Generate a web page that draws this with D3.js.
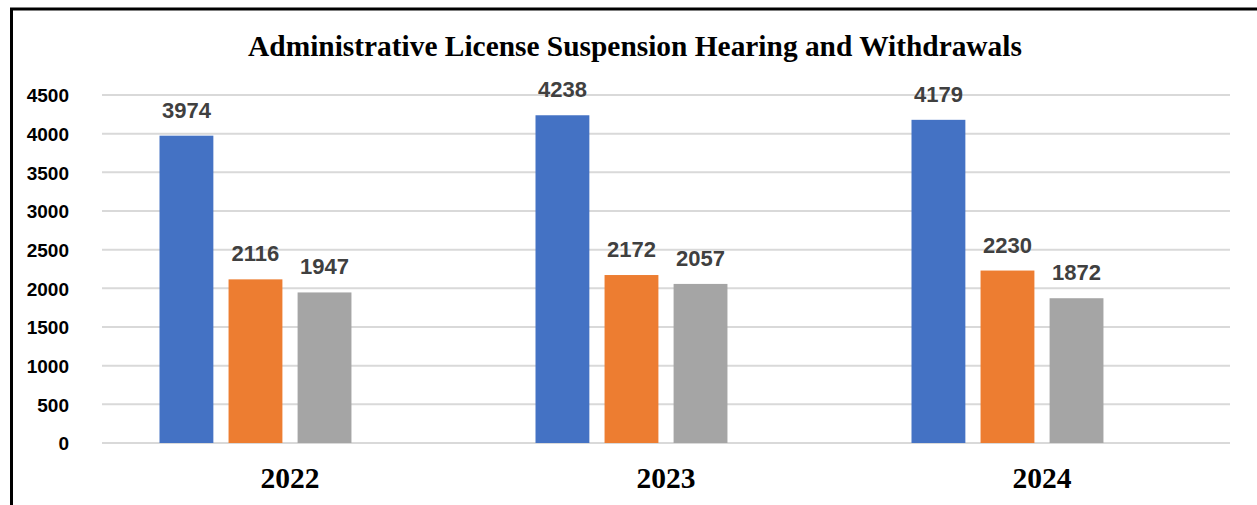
<!DOCTYPE html>
<html>
<head>
<meta charset="utf-8">
<script src="https://cdn.jsdelivr.net/npm/d3@7"></script>
<style>
  body { margin: 0; background: #fff; }
  svg { display: block; }
</style>
</head>
<body>
<div class="chart"></div>
<script>
// chart data
var years = ["2022", "2023", "2024"];
var seriesA = [3974, 4238, 4179];
var seriesB = [2116, 2172, 2230];
var seriesC = [1947, 2057, 1872];
var yTicks = [0, 500, 1000, 1500, 2000, 2500, 3000, 3500, 4000, 4500];
var titleText = "Administrative License Suspension Hearing and Withdrawals";

var svgWidth = 1257;
var svgHeight = 505;

var margin = { top: 95, bottom: 62, left: 102, right: 27 };
var width = svgWidth - margin.left - margin.right;
var height = svgHeight - margin.top - margin.bottom;

var svg = d3.select(".chart")
  .append("svg")
  .attr("width", svgWidth)
  .attr("height", svgHeight);

// frame lines (left and top)
svg.append("line")
  .attr("x1", 11.5).attr("x2", 11.5)
  .attr("y1", 8).attr("y2", svgHeight)
  .attr("stroke", "#000").attr("stroke-width", 3);
svg.append("line")
  .attr("x1", 10).attr("x2", svgWidth)
  .attr("y1", 9).attr("y2", 9)
  .attr("stroke", "#000").attr("stroke-width", 3);

// title
svg.append("text")
  .attr("x", 635)
  .attr("y", 56)
  .attr("text-anchor", "middle")
  .style("font-family", "'Liberation Serif', 'Times New Roman', serif")
  .style("font-weight", "bold")
  .style("font-size", "29.4px")
  .text(titleText);

var chartGroup = svg.append("g")
  .attr("transform", `translate(${margin.left}, ${margin.top})`);

// scales
var yScale = d3.scaleLinear()
  .domain([0, 4500])
  .range([height, 0]);

var x0 = d3.scaleBand()
  .domain(years)
  .range([0, width])
  .padding(0);

// the group leaves room for a fourth (empty) series, like the source chart
var slots = ["a", "b", "c", "d"];
var groupW = 261;
var groupOff = (x0.bandwidth() - groupW) / 2;
var x1 = d3.scaleBand()
  .domain(slots)
  .range([groupOff, groupOff + groupW])
  .paddingInner(0.22)
  .paddingOuter(0);

// gridlines
chartGroup.append("g")
  .selectAll("line")
  .data(yTicks)
  .enter()
  .append("line")
  .attr("x1", 0)
  .attr("x2", width)
  .attr("y1", d => yScale(d))
  .attr("y2", d => yScale(d))
  .attr("stroke", "#d9d9d9")
  .attr("stroke-width", 2);

// y axis labels
var yAxis = d3.axisLeft(yScale)
  .tickValues(yTicks)
  .tickFormat(d3.format("d"))
  .tickSize(0)
  .tickPadding(33);
var yAxisG = chartGroup.append("g").call(yAxis);
yAxisG.select(".domain").remove();
yAxisG.selectAll("text")
  .attr("dy", "0.36em")
  .style("font-family", "'Liberation Sans', Arial, sans-serif")
  .style("font-weight", "bold")
  .style("font-size", "19px")
  .attr("fill", "#000");

// x axis labels
var xAxis = d3.axisBottom(x0).tickSize(0).tickPadding(24);
var xAxisG = chartGroup.append("g")
  .attr("transform", `translate(0, ${height})`)
  .call(xAxis);
xAxisG.select(".domain").remove();
xAxisG.selectAll("text")
  .style("font-family", "'Liberation Serif', 'Times New Roman', serif")
  .style("font-weight", "bold")
  .style("font-size", "29.5px")
  .attr("fill", "#000");

// bars
var series = [
  { key: "a", values: seriesA, color: "#4472c4" },
  { key: "b", values: seriesB, color: "#ed7d31" },
  { key: "c", values: seriesC, color: "#a5a5a5" }
];

series.forEach(function(s) {
  var g = chartGroup.append("g");
  g.selectAll("rect")
    .data(s.values)
    .enter()
    .append("rect")
    .attr("x", (d, i) => x0(years[i]) + x1(s.key))
    .attr("y", d => yScale(d))
    .attr("width", x1.bandwidth())
    .attr("height", d => height - yScale(d))
    .attr("fill", s.color);

  g.selectAll("text")
    .data(s.values)
    .enter()
    .append("text")
    .attr("x", (d, i) => x0(years[i]) + x1(s.key) + x1.bandwidth() / 2)
    .attr("y", d => yScale(d) - 18)
    .attr("text-anchor", "middle")
    .style("font-family", "'Liberation Sans', Arial, sans-serif")
    .style("font-weight", "bold")
    .style("font-size", "22px")
    .attr("fill", "#404040")
    .text(d => d);
});
</script>
</body>
</html>
